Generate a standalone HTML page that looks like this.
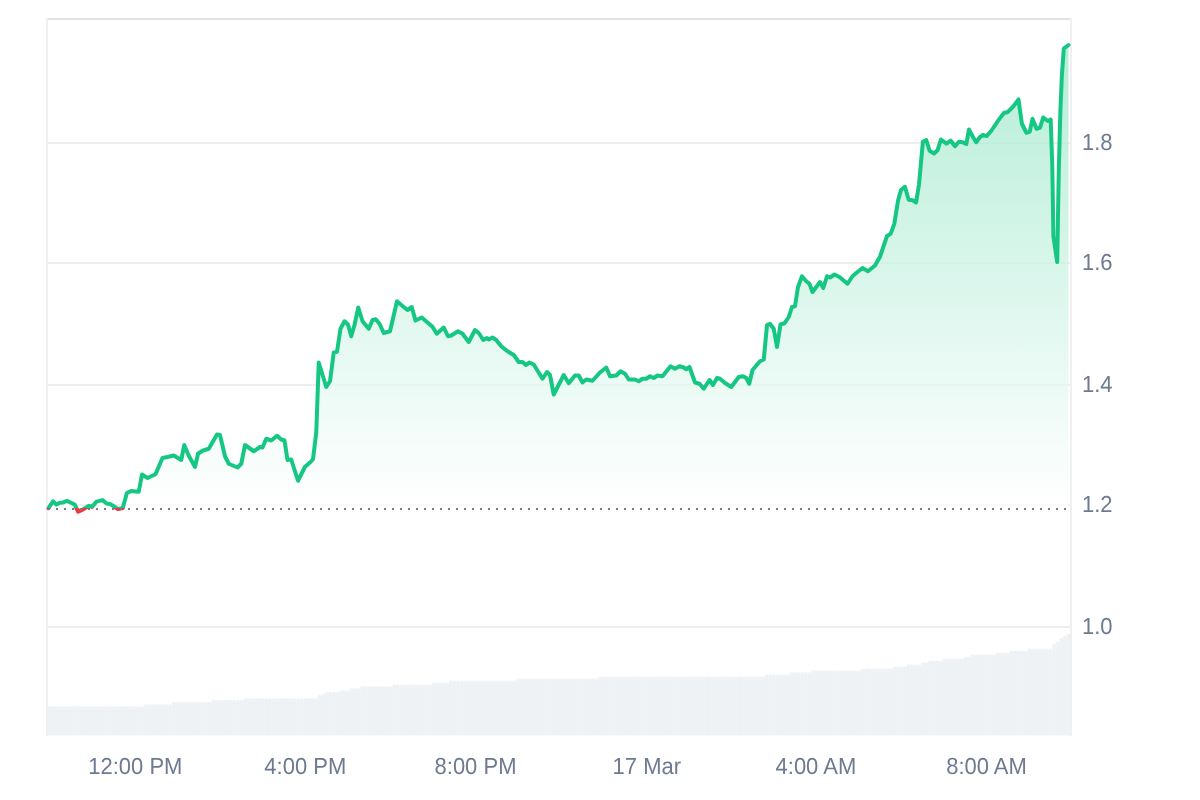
<!DOCTYPE html>
<html><head><meta charset="utf-8"><style>
html,body{margin:0;padding:0;background:#fff;width:1200px;height:800px;overflow:hidden}
svg{display:block;will-change:transform}
text{font-family:"Liberation Sans",sans-serif;font-size:22px;fill:#6e7a8f;text-rendering:geometricPrecision}
</style></head><body>
<svg width="1200" height="800" viewBox="0 0 1200 800">
<defs>
<linearGradient id="g" x1="0" y1="45" x2="0" y2="508.0" gradientUnits="userSpaceOnUse">
<stop offset="0" stop-color="#16c784" stop-opacity="0.315"/>
<stop offset="1" stop-color="#16c784" stop-opacity="0"/>
</linearGradient>
<clipPath id="volclip"><rect x="48" y="0" width="1022" height="735.5"/></clipPath>
<clipPath id="above"><rect x="0" y="0" width="1200" height="508.0"/></clipPath>
<clipPath id="below"><rect x="0" y="508.0" width="1200" height="292.0"/></clipPath>
<pattern id="dots" x="0" y="0" width="8" height="800" patternUnits="userSpaceOnUse"><rect x="0" y="508" width="2" height="2" fill="#787c84"/></pattern>
</defs>
<rect x="0" y="0" width="1200" height="800" fill="#fff"/>
<rect x="48" y="142" width="1022" height="2" fill="#eeeeee"/><rect x="48" y="262" width="1022" height="2" fill="#eeeeee"/><rect x="48" y="384" width="1022" height="2" fill="#eeeeee"/><rect x="48" y="504" width="1022" height="2" fill="#eeeeee"/><rect x="48" y="626" width="1022" height="2" fill="#eeeeee"/>
<path d="M48,735.5 L48.00,706.25 L51.55,706.25 L51.55,706.25 L55.10,706.25 L55.10,706.25 L58.65,706.25 L58.65,706.25 L62.19,706.25 L62.19,706.25 L65.74,706.25 L65.74,706.25 L69.29,706.25 L69.29,706.25 L72.84,706.25 L72.84,706.25 L76.39,706.25 L76.39,706.25 L79.94,706.25 L79.94,706.25 L83.49,706.25 L83.49,706.25 L87.03,706.25 L87.03,706.25 L90.58,706.25 L90.58,706.25 L94.13,706.25 L94.13,706.25 L97.68,706.25 L97.68,706.25 L101.23,706.25 L101.23,706.25 L104.78,706.25 L104.78,706.25 L108.33,706.25 L108.33,706.25 L111.88,706.25 L111.88,706.25 L115.42,706.25 L115.42,706.25 L118.97,706.25 L118.97,706.25 L122.52,706.25 L122.52,706.25 L126.07,706.25 L126.07,706.25 L129.62,706.25 L129.62,706.25 L133.17,706.25 L133.17,706.25 L136.72,706.25 L136.72,706.25 L140.26,706.25 L140.26,706.25 L143.81,706.25 L143.81,704.25 L147.36,704.25 L147.36,704.25 L150.91,704.25 L150.91,704.25 L154.46,704.25 L154.46,704.25 L158.01,704.25 L158.01,704.25 L161.56,704.25 L161.56,704.25 L165.10,704.25 L165.10,704.25 L168.65,704.25 L168.65,704.25 L172.20,704.25 L172.20,702.00 L175.75,702.00 L175.75,702.00 L179.30,702.00 L179.30,702.00 L182.85,702.00 L182.85,702.00 L186.40,702.00 L186.40,702.00 L189.94,702.00 L189.94,702.00 L193.49,702.00 L193.49,702.00 L197.04,702.00 L197.04,702.00 L200.59,702.00 L200.59,702.00 L204.14,702.00 L204.14,702.00 L207.69,702.00 L207.69,702.00 L211.24,702.00 L211.24,700.00 L214.78,700.00 L214.78,700.00 L218.33,700.00 L218.33,700.00 L221.88,700.00 L221.88,700.00 L225.43,700.00 L225.43,700.00 L228.98,700.00 L228.98,700.00 L232.53,700.00 L232.53,700.00 L236.08,700.00 L236.08,700.00 L239.62,700.00 L239.62,700.00 L243.17,700.00 L243.17,698.25 L246.72,698.25 L246.72,698.25 L250.27,698.25 L250.27,698.25 L253.82,698.25 L253.82,698.25 L257.37,698.25 L257.37,698.25 L260.92,698.25 L260.92,698.25 L264.47,698.25 L264.47,698.25 L268.01,698.25 L268.01,698.25 L271.56,698.25 L271.56,698.25 L275.11,698.25 L275.11,698.25 L278.66,698.25 L278.66,698.25 L282.21,698.25 L282.21,698.25 L285.76,698.25 L285.76,698.25 L289.31,698.25 L289.31,698.25 L292.85,698.25 L292.85,698.25 L296.40,698.25 L296.40,698.25 L299.95,698.25 L299.95,698.25 L303.50,698.25 L303.50,698.25 L307.05,698.25 L307.05,698.25 L310.60,698.25 L310.60,698.25 L314.15,698.25 L314.15,698.25 L317.69,698.25 L317.69,695.00 L321.24,695.00 L321.24,694.00 L324.79,694.00 L324.79,692.00 L328.34,692.00 L328.34,692.00 L331.89,692.00 L331.89,692.00 L335.44,692.00 L335.44,692.00 L338.99,692.00 L338.99,690.50 L342.53,690.50 L342.53,690.50 L346.08,690.50 L346.08,690.50 L349.63,690.50 L349.63,688.25 L353.18,688.25 L353.18,688.25 L356.73,688.25 L356.73,688.25 L360.28,688.25 L360.28,686.25 L363.83,686.25 L363.83,686.25 L367.38,686.25 L367.38,686.25 L370.92,686.25 L370.92,686.25 L374.47,686.25 L374.47,686.25 L378.02,686.25 L378.02,686.25 L381.57,686.25 L381.57,686.25 L385.12,686.25 L385.12,686.25 L388.67,686.25 L388.67,686.25 L392.22,686.25 L392.22,684.50 L395.76,684.50 L395.76,684.50 L399.31,684.50 L399.31,684.50 L402.86,684.50 L402.86,684.50 L406.41,684.50 L406.41,684.50 L409.96,684.50 L409.96,684.50 L413.51,684.50 L413.51,684.50 L417.06,684.50 L417.06,684.50 L420.60,684.50 L420.60,684.50 L424.15,684.50 L424.15,684.50 L427.70,684.50 L427.70,684.50 L431.25,684.50 L431.25,682.50 L434.80,682.50 L434.80,682.50 L438.35,682.50 L438.35,682.50 L441.90,682.50 L441.90,682.50 L445.44,682.50 L445.44,682.50 L448.99,682.50 L448.99,680.50 L452.54,680.50 L452.54,680.50 L456.09,680.50 L456.09,680.50 L459.64,680.50 L459.64,680.50 L463.19,680.50 L463.19,680.50 L466.74,680.50 L466.74,680.50 L470.28,680.50 L470.28,680.50 L473.83,680.50 L473.83,680.50 L477.38,680.50 L477.38,680.50 L480.93,680.50 L480.93,680.50 L484.48,680.50 L484.48,680.50 L488.03,680.50 L488.03,680.50 L491.58,680.50 L491.58,680.50 L495.12,680.50 L495.12,680.50 L498.67,680.50 L498.67,680.50 L502.22,680.50 L502.22,680.50 L505.77,680.50 L505.77,680.50 L509.32,680.50 L509.32,680.50 L512.87,680.50 L512.87,680.50 L516.42,680.50 L516.42,678.50 L519.97,678.50 L519.97,678.50 L523.51,678.50 L523.51,678.50 L527.06,678.50 L527.06,678.50 L530.61,678.50 L530.61,678.50 L534.16,678.50 L534.16,678.50 L537.71,678.50 L537.71,678.50 L541.26,678.50 L541.26,678.50 L544.81,678.50 L544.81,678.50 L548.35,678.50 L548.35,678.50 L551.90,678.50 L551.90,678.50 L555.45,678.50 L555.45,678.50 L559.00,678.50 L559.00,678.50 L562.55,678.50 L562.55,678.50 L566.10,678.50 L566.10,678.50 L569.65,678.50 L569.65,678.50 L573.19,678.50 L573.19,678.50 L576.74,678.50 L576.74,678.50 L580.29,678.50 L580.29,678.50 L583.84,678.50 L583.84,678.50 L587.39,678.50 L587.39,678.50 L590.94,678.50 L590.94,678.50 L594.49,678.50 L594.49,678.50 L598.03,678.50 L598.03,676.50 L601.58,676.50 L601.58,676.50 L605.13,676.50 L605.13,676.50 L608.68,676.50 L608.68,676.50 L612.23,676.50 L612.23,676.50 L615.78,676.50 L615.78,676.50 L619.33,676.50 L619.33,676.50 L622.88,676.50 L622.88,676.50 L626.42,676.50 L626.42,676.50 L629.97,676.50 L629.97,676.50 L633.52,676.50 L633.52,676.50 L637.07,676.50 L637.07,676.50 L640.62,676.50 L640.62,676.50 L644.17,676.50 L644.17,676.50 L647.72,676.50 L647.72,676.50 L651.26,676.50 L651.26,676.50 L654.81,676.50 L654.81,676.50 L658.36,676.50 L658.36,676.50 L661.91,676.50 L661.91,676.50 L665.46,676.50 L665.46,676.50 L669.01,676.50 L669.01,676.50 L672.56,676.50 L672.56,676.50 L676.10,676.50 L676.10,676.50 L679.65,676.50 L679.65,676.50 L683.20,676.50 L683.20,676.50 L686.75,676.50 L686.75,676.50 L690.30,676.50 L690.30,676.50 L693.85,676.50 L693.85,676.50 L697.40,676.50 L697.40,676.50 L700.94,676.50 L700.94,676.50 L704.49,676.50 L704.49,676.50 L708.04,676.50 L708.04,676.50 L711.59,676.50 L711.59,676.50 L715.14,676.50 L715.14,676.50 L718.69,676.50 L718.69,676.50 L722.24,676.50 L722.24,676.50 L725.78,676.50 L725.78,676.50 L729.33,676.50 L729.33,676.50 L732.88,676.50 L732.88,676.50 L736.43,676.50 L736.43,676.50 L739.98,676.50 L739.98,676.50 L743.53,676.50 L743.53,676.50 L747.08,676.50 L747.08,676.50 L750.62,676.50 L750.62,676.50 L754.17,676.50 L754.17,676.50 L757.72,676.50 L757.72,676.50 L761.27,676.50 L761.27,676.50 L764.82,676.50 L764.82,674.40 L768.37,674.40 L768.37,674.40 L771.92,674.40 L771.92,674.40 L775.47,674.40 L775.47,674.40 L779.01,674.40 L779.01,674.40 L782.56,674.40 L782.56,674.40 L786.11,674.40 L786.11,674.40 L789.66,674.40 L789.66,672.30 L793.21,672.30 L793.21,672.30 L796.76,672.30 L796.76,672.30 L800.31,672.30 L800.31,672.30 L803.85,672.30 L803.85,672.30 L807.40,672.30 L807.40,672.30 L810.95,672.30 L810.95,670.60 L814.50,670.60 L814.50,670.60 L818.05,670.60 L818.05,670.60 L821.60,670.60 L821.60,670.60 L825.15,670.60 L825.15,670.60 L828.69,670.60 L828.69,670.60 L832.24,670.60 L832.24,670.60 L835.79,670.60 L835.79,670.60 L839.34,670.60 L839.34,670.60 L842.89,670.60 L842.89,670.60 L846.44,670.60 L846.44,670.60 L849.99,670.60 L849.99,670.60 L853.53,670.60 L853.53,670.60 L857.08,670.60 L857.08,670.60 L860.63,670.60 L860.63,669.00 L864.18,669.00 L864.18,668.40 L867.73,668.40 L867.73,668.40 L871.28,668.40 L871.28,668.40 L874.83,668.40 L874.83,668.40 L878.38,668.40 L878.38,668.40 L881.92,668.40 L881.92,668.40 L885.47,668.40 L885.47,668.40 L889.02,668.40 L889.02,668.40 L892.57,668.40 L892.57,666.60 L896.12,666.60 L896.12,666.60 L899.67,666.60 L899.67,666.60 L903.22,666.60 L903.22,666.60 L906.76,666.60 L906.76,664.40 L910.31,664.40 L910.31,664.40 L913.86,664.40 L913.86,664.40 L917.41,664.40 L917.41,664.40 L920.96,664.40 L920.96,662.50 L924.51,662.50 L924.51,662.50 L928.06,662.50 L928.06,660.70 L931.60,660.70 L931.60,660.70 L935.15,660.70 L935.15,660.70 L938.70,660.70 L938.70,660.70 L942.25,660.70 L942.25,658.50 L945.80,658.50 L945.80,658.50 L949.35,658.50 L949.35,658.50 L952.90,658.50 L952.90,658.50 L956.44,658.50 L956.44,658.50 L959.99,658.50 L959.99,658.50 L963.54,658.50 L963.54,656.70 L967.09,656.70 L967.09,656.70 L970.64,656.70 L970.64,654.40 L974.19,654.40 L974.19,654.40 L977.74,654.40 L977.74,654.40 L981.28,654.40 L981.28,654.40 L984.83,654.40 L984.83,654.40 L988.38,654.40 L988.38,654.40 L991.93,654.40 L991.93,654.40 L995.48,654.40 L995.48,652.80 L999.03,652.80 L999.03,652.80 L1002.58,652.80 L1002.58,652.80 L1006.12,652.80 L1006.12,652.80 L1009.67,652.80 L1009.67,650.80 L1013.22,650.80 L1013.22,650.80 L1016.77,650.80 L1016.77,650.80 L1020.32,650.80 L1020.32,650.80 L1023.87,650.80 L1023.87,650.80 L1027.42,650.80 L1027.42,648.50 L1030.97,648.50 L1030.97,648.50 L1034.51,648.50 L1034.51,648.50 L1038.06,648.50 L1038.06,648.50 L1041.61,648.50 L1041.61,648.50 L1045.16,648.50 L1045.16,648.50 L1048.71,648.50 L1048.71,648.50 L1052.26,648.50 L1052.26,644.10 L1055.81,644.10 L1055.81,642.10 L1059.35,642.10 L1059.35,638.10 L1062.90,638.10 L1062.90,636.10 L1066.45,636.10 L1066.45,634.00 L1070.00,634.00 L1070,735.5 Z" fill="#eff2f5"/><g fill="#fff" fill-opacity="0.55"><rect x="50.95" y="705.75" width="1.2" height="1.8"/><rect x="51.25" y="706.25" width="0.6" height="29.25" fill-opacity="0.18"/><rect x="54.50" y="705.75" width="1.2" height="1.8"/><rect x="54.80" y="706.25" width="0.6" height="29.25" fill-opacity="0.18"/><rect x="58.05" y="705.75" width="1.2" height="1.8"/><rect x="58.35" y="706.25" width="0.6" height="29.25" fill-opacity="0.18"/><rect x="61.59" y="705.75" width="1.2" height="1.8"/><rect x="61.89" y="706.25" width="0.6" height="29.25" fill-opacity="0.18"/><rect x="65.14" y="705.75" width="1.2" height="1.8"/><rect x="65.44" y="706.25" width="0.6" height="29.25" fill-opacity="0.18"/><rect x="68.69" y="705.75" width="1.2" height="1.8"/><rect x="68.99" y="706.25" width="0.6" height="29.25" fill-opacity="0.18"/><rect x="72.24" y="705.75" width="1.2" height="1.8"/><rect x="72.54" y="706.25" width="0.6" height="29.25" fill-opacity="0.18"/><rect x="75.79" y="705.75" width="1.2" height="1.8"/><rect x="76.09" y="706.25" width="0.6" height="29.25" fill-opacity="0.18"/><rect x="79.34" y="705.75" width="1.2" height="1.8"/><rect x="79.64" y="706.25" width="0.6" height="29.25" fill-opacity="0.18"/><rect x="82.89" y="705.75" width="1.2" height="1.8"/><rect x="83.19" y="706.25" width="0.6" height="29.25" fill-opacity="0.18"/><rect x="86.43" y="705.75" width="1.2" height="1.8"/><rect x="86.73" y="706.25" width="0.6" height="29.25" fill-opacity="0.18"/><rect x="89.98" y="705.75" width="1.2" height="1.8"/><rect x="90.28" y="706.25" width="0.6" height="29.25" fill-opacity="0.18"/><rect x="93.53" y="705.75" width="1.2" height="1.8"/><rect x="93.83" y="706.25" width="0.6" height="29.25" fill-opacity="0.18"/><rect x="97.08" y="705.75" width="1.2" height="1.8"/><rect x="97.38" y="706.25" width="0.6" height="29.25" fill-opacity="0.18"/><rect x="100.63" y="705.75" width="1.2" height="1.8"/><rect x="100.93" y="706.25" width="0.6" height="29.25" fill-opacity="0.18"/><rect x="104.18" y="705.75" width="1.2" height="1.8"/><rect x="104.48" y="706.25" width="0.6" height="29.25" fill-opacity="0.18"/><rect x="107.73" y="705.75" width="1.2" height="1.8"/><rect x="108.03" y="706.25" width="0.6" height="29.25" fill-opacity="0.18"/><rect x="111.28" y="705.75" width="1.2" height="1.8"/><rect x="111.58" y="706.25" width="0.6" height="29.25" fill-opacity="0.18"/><rect x="114.82" y="705.75" width="1.2" height="1.8"/><rect x="115.12" y="706.25" width="0.6" height="29.25" fill-opacity="0.18"/><rect x="118.37" y="705.75" width="1.2" height="1.8"/><rect x="118.67" y="706.25" width="0.6" height="29.25" fill-opacity="0.18"/><rect x="121.92" y="705.75" width="1.2" height="1.8"/><rect x="122.22" y="706.25" width="0.6" height="29.25" fill-opacity="0.18"/><rect x="125.47" y="705.75" width="1.2" height="1.8"/><rect x="125.77" y="706.25" width="0.6" height="29.25" fill-opacity="0.18"/><rect x="129.02" y="705.75" width="1.2" height="1.8"/><rect x="129.32" y="706.25" width="0.6" height="29.25" fill-opacity="0.18"/><rect x="132.57" y="705.75" width="1.2" height="1.8"/><rect x="132.87" y="706.25" width="0.6" height="29.25" fill-opacity="0.18"/><rect x="136.12" y="705.75" width="1.2" height="1.8"/><rect x="136.42" y="706.25" width="0.6" height="29.25" fill-opacity="0.18"/><rect x="139.66" y="705.75" width="1.2" height="1.8"/><rect x="139.96" y="706.25" width="0.6" height="29.25" fill-opacity="0.18"/><rect x="143.21" y="703.75" width="1.2" height="1.8"/><rect x="143.21" y="705.75" width="1.2" height="1.8"/><rect x="143.51" y="704.25" width="0.6" height="31.25" fill-opacity="0.18"/><rect x="146.76" y="703.75" width="1.2" height="1.8"/><rect x="147.06" y="704.25" width="0.6" height="31.25" fill-opacity="0.18"/><rect x="150.31" y="703.75" width="1.2" height="1.8"/><rect x="150.61" y="704.25" width="0.6" height="31.25" fill-opacity="0.18"/><rect x="153.86" y="703.75" width="1.2" height="1.8"/><rect x="154.16" y="704.25" width="0.6" height="31.25" fill-opacity="0.18"/><rect x="157.41" y="703.75" width="1.2" height="1.8"/><rect x="157.71" y="704.25" width="0.6" height="31.25" fill-opacity="0.18"/><rect x="160.96" y="703.75" width="1.2" height="1.8"/><rect x="161.26" y="704.25" width="0.6" height="31.25" fill-opacity="0.18"/><rect x="164.50" y="703.75" width="1.2" height="1.8"/><rect x="164.80" y="704.25" width="0.6" height="31.25" fill-opacity="0.18"/><rect x="168.05" y="703.75" width="1.2" height="1.8"/><rect x="168.35" y="704.25" width="0.6" height="31.25" fill-opacity="0.18"/><rect x="171.60" y="703.75" width="1.2" height="1.8"/><rect x="171.60" y="701.50" width="1.2" height="1.8"/><rect x="171.90" y="702.00" width="0.6" height="33.50" fill-opacity="0.18"/><rect x="175.15" y="701.50" width="1.2" height="1.8"/><rect x="175.45" y="702.00" width="0.6" height="33.50" fill-opacity="0.18"/><rect x="178.70" y="701.50" width="1.2" height="1.8"/><rect x="179.00" y="702.00" width="0.6" height="33.50" fill-opacity="0.18"/><rect x="182.25" y="701.50" width="1.2" height="1.8"/><rect x="182.55" y="702.00" width="0.6" height="33.50" fill-opacity="0.18"/><rect x="185.80" y="701.50" width="1.2" height="1.8"/><rect x="186.10" y="702.00" width="0.6" height="33.50" fill-opacity="0.18"/><rect x="189.34" y="701.50" width="1.2" height="1.8"/><rect x="189.64" y="702.00" width="0.6" height="33.50" fill-opacity="0.18"/><rect x="192.89" y="701.50" width="1.2" height="1.8"/><rect x="193.19" y="702.00" width="0.6" height="33.50" fill-opacity="0.18"/><rect x="196.44" y="701.50" width="1.2" height="1.8"/><rect x="196.74" y="702.00" width="0.6" height="33.50" fill-opacity="0.18"/><rect x="199.99" y="701.50" width="1.2" height="1.8"/><rect x="200.29" y="702.00" width="0.6" height="33.50" fill-opacity="0.18"/><rect x="203.54" y="701.50" width="1.2" height="1.8"/><rect x="203.84" y="702.00" width="0.6" height="33.50" fill-opacity="0.18"/><rect x="207.09" y="701.50" width="1.2" height="1.8"/><rect x="207.39" y="702.00" width="0.6" height="33.50" fill-opacity="0.18"/><rect x="210.64" y="699.50" width="1.2" height="1.8"/><rect x="210.64" y="701.50" width="1.2" height="1.8"/><rect x="210.94" y="700.00" width="0.6" height="35.50" fill-opacity="0.18"/><rect x="214.18" y="699.50" width="1.2" height="1.8"/><rect x="214.48" y="700.00" width="0.6" height="35.50" fill-opacity="0.18"/><rect x="217.73" y="699.50" width="1.2" height="1.8"/><rect x="218.03" y="700.00" width="0.6" height="35.50" fill-opacity="0.18"/><rect x="221.28" y="699.50" width="1.2" height="1.8"/><rect x="221.58" y="700.00" width="0.6" height="35.50" fill-opacity="0.18"/><rect x="224.83" y="699.50" width="1.2" height="1.8"/><rect x="225.13" y="700.00" width="0.6" height="35.50" fill-opacity="0.18"/><rect x="228.38" y="699.50" width="1.2" height="1.8"/><rect x="228.68" y="700.00" width="0.6" height="35.50" fill-opacity="0.18"/><rect x="231.93" y="699.50" width="1.2" height="1.8"/><rect x="232.23" y="700.00" width="0.6" height="35.50" fill-opacity="0.18"/><rect x="235.48" y="699.50" width="1.2" height="1.8"/><rect x="235.78" y="700.00" width="0.6" height="35.50" fill-opacity="0.18"/><rect x="239.03" y="699.50" width="1.2" height="1.8"/><rect x="239.32" y="700.00" width="0.6" height="35.50" fill-opacity="0.18"/><rect x="242.57" y="697.75" width="1.2" height="1.8"/><rect x="242.57" y="699.50" width="1.2" height="1.8"/><rect x="242.87" y="698.25" width="0.6" height="37.25" fill-opacity="0.18"/><rect x="246.12" y="697.75" width="1.2" height="1.8"/><rect x="246.42" y="698.25" width="0.6" height="37.25" fill-opacity="0.18"/><rect x="249.67" y="697.75" width="1.2" height="1.8"/><rect x="249.97" y="698.25" width="0.6" height="37.25" fill-opacity="0.18"/><rect x="253.22" y="697.75" width="1.2" height="1.8"/><rect x="253.52" y="698.25" width="0.6" height="37.25" fill-opacity="0.18"/><rect x="256.77" y="697.75" width="1.2" height="1.8"/><rect x="257.07" y="698.25" width="0.6" height="37.25" fill-opacity="0.18"/><rect x="260.32" y="697.75" width="1.2" height="1.8"/><rect x="260.62" y="698.25" width="0.6" height="37.25" fill-opacity="0.18"/><rect x="263.87" y="697.75" width="1.2" height="1.8"/><rect x="264.17" y="698.25" width="0.6" height="37.25" fill-opacity="0.18"/><rect x="267.41" y="697.75" width="1.2" height="1.8"/><rect x="267.71" y="698.25" width="0.6" height="37.25" fill-opacity="0.18"/><rect x="270.96" y="697.75" width="1.2" height="1.8"/><rect x="271.26" y="698.25" width="0.6" height="37.25" fill-opacity="0.18"/><rect x="274.51" y="697.75" width="1.2" height="1.8"/><rect x="274.81" y="698.25" width="0.6" height="37.25" fill-opacity="0.18"/><rect x="278.06" y="697.75" width="1.2" height="1.8"/><rect x="278.36" y="698.25" width="0.6" height="37.25" fill-opacity="0.18"/><rect x="281.61" y="697.75" width="1.2" height="1.8"/><rect x="281.91" y="698.25" width="0.6" height="37.25" fill-opacity="0.18"/><rect x="285.16" y="697.75" width="1.2" height="1.8"/><rect x="285.46" y="698.25" width="0.6" height="37.25" fill-opacity="0.18"/><rect x="288.71" y="697.75" width="1.2" height="1.8"/><rect x="289.01" y="698.25" width="0.6" height="37.25" fill-opacity="0.18"/><rect x="292.25" y="697.75" width="1.2" height="1.8"/><rect x="292.55" y="698.25" width="0.6" height="37.25" fill-opacity="0.18"/><rect x="295.80" y="697.75" width="1.2" height="1.8"/><rect x="296.10" y="698.25" width="0.6" height="37.25" fill-opacity="0.18"/><rect x="299.35" y="697.75" width="1.2" height="1.8"/><rect x="299.65" y="698.25" width="0.6" height="37.25" fill-opacity="0.18"/><rect x="302.90" y="697.75" width="1.2" height="1.8"/><rect x="303.20" y="698.25" width="0.6" height="37.25" fill-opacity="0.18"/><rect x="306.45" y="697.75" width="1.2" height="1.8"/><rect x="306.75" y="698.25" width="0.6" height="37.25" fill-opacity="0.18"/><rect x="310.00" y="697.75" width="1.2" height="1.8"/><rect x="310.30" y="698.25" width="0.6" height="37.25" fill-opacity="0.18"/><rect x="313.55" y="697.75" width="1.2" height="1.8"/><rect x="313.85" y="698.25" width="0.6" height="37.25" fill-opacity="0.18"/><rect x="317.09" y="697.75" width="1.2" height="1.8"/><rect x="317.09" y="694.50" width="1.2" height="1.8"/><rect x="317.39" y="695.00" width="0.6" height="40.50" fill-opacity="0.18"/><rect x="320.64" y="693.50" width="1.2" height="1.8"/><rect x="320.64" y="694.50" width="1.2" height="1.8"/><rect x="320.94" y="694.00" width="0.6" height="41.50" fill-opacity="0.18"/><rect x="324.19" y="691.50" width="1.2" height="1.8"/><rect x="324.19" y="693.50" width="1.2" height="1.8"/><rect x="324.49" y="692.00" width="0.6" height="43.50" fill-opacity="0.18"/><rect x="327.74" y="691.50" width="1.2" height="1.8"/><rect x="328.04" y="692.00" width="0.6" height="43.50" fill-opacity="0.18"/><rect x="331.29" y="691.50" width="1.2" height="1.8"/><rect x="331.59" y="692.00" width="0.6" height="43.50" fill-opacity="0.18"/><rect x="334.84" y="691.50" width="1.2" height="1.8"/><rect x="335.14" y="692.00" width="0.6" height="43.50" fill-opacity="0.18"/><rect x="338.39" y="690.00" width="1.2" height="1.8"/><rect x="338.39" y="691.50" width="1.2" height="1.8"/><rect x="338.69" y="690.50" width="0.6" height="45.00" fill-opacity="0.18"/><rect x="341.93" y="690.00" width="1.2" height="1.8"/><rect x="342.23" y="690.50" width="0.6" height="45.00" fill-opacity="0.18"/><rect x="345.48" y="690.00" width="1.2" height="1.8"/><rect x="345.78" y="690.50" width="0.6" height="45.00" fill-opacity="0.18"/><rect x="349.03" y="687.75" width="1.2" height="1.8"/><rect x="349.03" y="690.00" width="1.2" height="1.8"/><rect x="349.33" y="688.25" width="0.6" height="47.25" fill-opacity="0.18"/><rect x="352.58" y="687.75" width="1.2" height="1.8"/><rect x="352.88" y="688.25" width="0.6" height="47.25" fill-opacity="0.18"/><rect x="356.13" y="687.75" width="1.2" height="1.8"/><rect x="356.43" y="688.25" width="0.6" height="47.25" fill-opacity="0.18"/><rect x="359.68" y="687.75" width="1.2" height="1.8"/><rect x="359.68" y="685.75" width="1.2" height="1.8"/><rect x="359.98" y="686.25" width="0.6" height="49.25" fill-opacity="0.18"/><rect x="363.23" y="685.75" width="1.2" height="1.8"/><rect x="363.53" y="686.25" width="0.6" height="49.25" fill-opacity="0.18"/><rect x="366.77" y="685.75" width="1.2" height="1.8"/><rect x="367.07" y="686.25" width="0.6" height="49.25" fill-opacity="0.18"/><rect x="370.32" y="685.75" width="1.2" height="1.8"/><rect x="370.62" y="686.25" width="0.6" height="49.25" fill-opacity="0.18"/><rect x="373.87" y="685.75" width="1.2" height="1.8"/><rect x="374.17" y="686.25" width="0.6" height="49.25" fill-opacity="0.18"/><rect x="377.42" y="685.75" width="1.2" height="1.8"/><rect x="377.72" y="686.25" width="0.6" height="49.25" fill-opacity="0.18"/><rect x="380.97" y="685.75" width="1.2" height="1.8"/><rect x="381.27" y="686.25" width="0.6" height="49.25" fill-opacity="0.18"/><rect x="384.52" y="685.75" width="1.2" height="1.8"/><rect x="384.82" y="686.25" width="0.6" height="49.25" fill-opacity="0.18"/><rect x="388.07" y="685.75" width="1.2" height="1.8"/><rect x="388.37" y="686.25" width="0.6" height="49.25" fill-opacity="0.18"/><rect x="391.62" y="684.00" width="1.2" height="1.8"/><rect x="391.62" y="685.75" width="1.2" height="1.8"/><rect x="391.92" y="684.50" width="0.6" height="51.00" fill-opacity="0.18"/><rect x="395.16" y="684.00" width="1.2" height="1.8"/><rect x="395.46" y="684.50" width="0.6" height="51.00" fill-opacity="0.18"/><rect x="398.71" y="684.00" width="1.2" height="1.8"/><rect x="399.01" y="684.50" width="0.6" height="51.00" fill-opacity="0.18"/><rect x="402.26" y="684.00" width="1.2" height="1.8"/><rect x="402.56" y="684.50" width="0.6" height="51.00" fill-opacity="0.18"/><rect x="405.81" y="684.00" width="1.2" height="1.8"/><rect x="406.11" y="684.50" width="0.6" height="51.00" fill-opacity="0.18"/><rect x="409.36" y="684.00" width="1.2" height="1.8"/><rect x="409.66" y="684.50" width="0.6" height="51.00" fill-opacity="0.18"/><rect x="412.91" y="684.00" width="1.2" height="1.8"/><rect x="413.21" y="684.50" width="0.6" height="51.00" fill-opacity="0.18"/><rect x="416.46" y="684.00" width="1.2" height="1.8"/><rect x="416.76" y="684.50" width="0.6" height="51.00" fill-opacity="0.18"/><rect x="420.00" y="684.00" width="1.2" height="1.8"/><rect x="420.30" y="684.50" width="0.6" height="51.00" fill-opacity="0.18"/><rect x="423.55" y="684.00" width="1.2" height="1.8"/><rect x="423.85" y="684.50" width="0.6" height="51.00" fill-opacity="0.18"/><rect x="427.10" y="684.00" width="1.2" height="1.8"/><rect x="427.40" y="684.50" width="0.6" height="51.00" fill-opacity="0.18"/><rect x="430.65" y="682.00" width="1.2" height="1.8"/><rect x="430.65" y="684.00" width="1.2" height="1.8"/><rect x="430.95" y="682.50" width="0.6" height="53.00" fill-opacity="0.18"/><rect x="434.20" y="682.00" width="1.2" height="1.8"/><rect x="434.50" y="682.50" width="0.6" height="53.00" fill-opacity="0.18"/><rect x="437.75" y="682.00" width="1.2" height="1.8"/><rect x="438.05" y="682.50" width="0.6" height="53.00" fill-opacity="0.18"/><rect x="441.30" y="682.00" width="1.2" height="1.8"/><rect x="441.60" y="682.50" width="0.6" height="53.00" fill-opacity="0.18"/><rect x="444.84" y="682.00" width="1.2" height="1.8"/><rect x="445.14" y="682.50" width="0.6" height="53.00" fill-opacity="0.18"/><rect x="448.39" y="680.00" width="1.2" height="1.8"/><rect x="448.39" y="682.00" width="1.2" height="1.8"/><rect x="448.69" y="680.50" width="0.6" height="55.00" fill-opacity="0.18"/><rect x="451.94" y="680.00" width="1.2" height="1.8"/><rect x="452.24" y="680.50" width="0.6" height="55.00" fill-opacity="0.18"/><rect x="455.49" y="680.00" width="1.2" height="1.8"/><rect x="455.79" y="680.50" width="0.6" height="55.00" fill-opacity="0.18"/><rect x="459.04" y="680.00" width="1.2" height="1.8"/><rect x="459.34" y="680.50" width="0.6" height="55.00" fill-opacity="0.18"/><rect x="462.59" y="680.00" width="1.2" height="1.8"/><rect x="462.89" y="680.50" width="0.6" height="55.00" fill-opacity="0.18"/><rect x="466.14" y="680.00" width="1.2" height="1.8"/><rect x="466.44" y="680.50" width="0.6" height="55.00" fill-opacity="0.18"/><rect x="469.68" y="680.00" width="1.2" height="1.8"/><rect x="469.98" y="680.50" width="0.6" height="55.00" fill-opacity="0.18"/><rect x="473.23" y="680.00" width="1.2" height="1.8"/><rect x="473.53" y="680.50" width="0.6" height="55.00" fill-opacity="0.18"/><rect x="476.78" y="680.00" width="1.2" height="1.8"/><rect x="477.08" y="680.50" width="0.6" height="55.00" fill-opacity="0.18"/><rect x="480.33" y="680.00" width="1.2" height="1.8"/><rect x="480.63" y="680.50" width="0.6" height="55.00" fill-opacity="0.18"/><rect x="483.88" y="680.00" width="1.2" height="1.8"/><rect x="484.18" y="680.50" width="0.6" height="55.00" fill-opacity="0.18"/><rect x="487.43" y="680.00" width="1.2" height="1.8"/><rect x="487.73" y="680.50" width="0.6" height="55.00" fill-opacity="0.18"/><rect x="490.98" y="680.00" width="1.2" height="1.8"/><rect x="491.28" y="680.50" width="0.6" height="55.00" fill-opacity="0.18"/><rect x="494.52" y="680.00" width="1.2" height="1.8"/><rect x="494.82" y="680.50" width="0.6" height="55.00" fill-opacity="0.18"/><rect x="498.07" y="680.00" width="1.2" height="1.8"/><rect x="498.37" y="680.50" width="0.6" height="55.00" fill-opacity="0.18"/><rect x="501.62" y="680.00" width="1.2" height="1.8"/><rect x="501.92" y="680.50" width="0.6" height="55.00" fill-opacity="0.18"/><rect x="505.17" y="680.00" width="1.2" height="1.8"/><rect x="505.47" y="680.50" width="0.6" height="55.00" fill-opacity="0.18"/><rect x="508.72" y="680.00" width="1.2" height="1.8"/><rect x="509.02" y="680.50" width="0.6" height="55.00" fill-opacity="0.18"/><rect x="512.27" y="680.00" width="1.2" height="1.8"/><rect x="512.57" y="680.50" width="0.6" height="55.00" fill-opacity="0.18"/><rect x="515.82" y="680.00" width="1.2" height="1.8"/><rect x="515.82" y="678.00" width="1.2" height="1.8"/><rect x="516.12" y="678.50" width="0.6" height="57.00" fill-opacity="0.18"/><rect x="519.37" y="678.00" width="1.2" height="1.8"/><rect x="519.67" y="678.50" width="0.6" height="57.00" fill-opacity="0.18"/><rect x="522.91" y="678.00" width="1.2" height="1.8"/><rect x="523.21" y="678.50" width="0.6" height="57.00" fill-opacity="0.18"/><rect x="526.46" y="678.00" width="1.2" height="1.8"/><rect x="526.76" y="678.50" width="0.6" height="57.00" fill-opacity="0.18"/><rect x="530.01" y="678.00" width="1.2" height="1.8"/><rect x="530.31" y="678.50" width="0.6" height="57.00" fill-opacity="0.18"/><rect x="533.56" y="678.00" width="1.2" height="1.8"/><rect x="533.86" y="678.50" width="0.6" height="57.00" fill-opacity="0.18"/><rect x="537.11" y="678.00" width="1.2" height="1.8"/><rect x="537.41" y="678.50" width="0.6" height="57.00" fill-opacity="0.18"/><rect x="540.66" y="678.00" width="1.2" height="1.8"/><rect x="540.96" y="678.50" width="0.6" height="57.00" fill-opacity="0.18"/><rect x="544.21" y="678.00" width="1.2" height="1.8"/><rect x="544.51" y="678.50" width="0.6" height="57.00" fill-opacity="0.18"/><rect x="547.75" y="678.00" width="1.2" height="1.8"/><rect x="548.05" y="678.50" width="0.6" height="57.00" fill-opacity="0.18"/><rect x="551.30" y="678.00" width="1.2" height="1.8"/><rect x="551.60" y="678.50" width="0.6" height="57.00" fill-opacity="0.18"/><rect x="554.85" y="678.00" width="1.2" height="1.8"/><rect x="555.15" y="678.50" width="0.6" height="57.00" fill-opacity="0.18"/><rect x="558.40" y="678.00" width="1.2" height="1.8"/><rect x="558.70" y="678.50" width="0.6" height="57.00" fill-opacity="0.18"/><rect x="561.95" y="678.00" width="1.2" height="1.8"/><rect x="562.25" y="678.50" width="0.6" height="57.00" fill-opacity="0.18"/><rect x="565.50" y="678.00" width="1.2" height="1.8"/><rect x="565.80" y="678.50" width="0.6" height="57.00" fill-opacity="0.18"/><rect x="569.05" y="678.00" width="1.2" height="1.8"/><rect x="569.35" y="678.50" width="0.6" height="57.00" fill-opacity="0.18"/><rect x="572.59" y="678.00" width="1.2" height="1.8"/><rect x="572.89" y="678.50" width="0.6" height="57.00" fill-opacity="0.18"/><rect x="576.14" y="678.00" width="1.2" height="1.8"/><rect x="576.44" y="678.50" width="0.6" height="57.00" fill-opacity="0.18"/><rect x="579.69" y="678.00" width="1.2" height="1.8"/><rect x="579.99" y="678.50" width="0.6" height="57.00" fill-opacity="0.18"/><rect x="583.24" y="678.00" width="1.2" height="1.8"/><rect x="583.54" y="678.50" width="0.6" height="57.00" fill-opacity="0.18"/><rect x="586.79" y="678.00" width="1.2" height="1.8"/><rect x="587.09" y="678.50" width="0.6" height="57.00" fill-opacity="0.18"/><rect x="590.34" y="678.00" width="1.2" height="1.8"/><rect x="590.64" y="678.50" width="0.6" height="57.00" fill-opacity="0.18"/><rect x="593.89" y="678.00" width="1.2" height="1.8"/><rect x="594.19" y="678.50" width="0.6" height="57.00" fill-opacity="0.18"/><rect x="597.43" y="676.00" width="1.2" height="1.8"/><rect x="597.43" y="678.00" width="1.2" height="1.8"/><rect x="597.73" y="676.50" width="0.6" height="59.00" fill-opacity="0.18"/><rect x="600.98" y="676.00" width="1.2" height="1.8"/><rect x="601.28" y="676.50" width="0.6" height="59.00" fill-opacity="0.18"/><rect x="604.53" y="676.00" width="1.2" height="1.8"/><rect x="604.83" y="676.50" width="0.6" height="59.00" fill-opacity="0.18"/><rect x="608.08" y="676.00" width="1.2" height="1.8"/><rect x="608.38" y="676.50" width="0.6" height="59.00" fill-opacity="0.18"/><rect x="611.63" y="676.00" width="1.2" height="1.8"/><rect x="611.93" y="676.50" width="0.6" height="59.00" fill-opacity="0.18"/><rect x="615.18" y="676.00" width="1.2" height="1.8"/><rect x="615.48" y="676.50" width="0.6" height="59.00" fill-opacity="0.18"/><rect x="618.73" y="676.00" width="1.2" height="1.8"/><rect x="619.03" y="676.50" width="0.6" height="59.00" fill-opacity="0.18"/><rect x="622.27" y="676.00" width="1.2" height="1.8"/><rect x="622.58" y="676.50" width="0.6" height="59.00" fill-opacity="0.18"/><rect x="625.82" y="676.00" width="1.2" height="1.8"/><rect x="626.12" y="676.50" width="0.6" height="59.00" fill-opacity="0.18"/><rect x="629.37" y="676.00" width="1.2" height="1.8"/><rect x="629.67" y="676.50" width="0.6" height="59.00" fill-opacity="0.18"/><rect x="632.92" y="676.00" width="1.2" height="1.8"/><rect x="633.22" y="676.50" width="0.6" height="59.00" fill-opacity="0.18"/><rect x="636.47" y="676.00" width="1.2" height="1.8"/><rect x="636.77" y="676.50" width="0.6" height="59.00" fill-opacity="0.18"/><rect x="640.02" y="676.00" width="1.2" height="1.8"/><rect x="640.32" y="676.50" width="0.6" height="59.00" fill-opacity="0.18"/><rect x="643.57" y="676.00" width="1.2" height="1.8"/><rect x="643.87" y="676.50" width="0.6" height="59.00" fill-opacity="0.18"/><rect x="647.12" y="676.00" width="1.2" height="1.8"/><rect x="647.42" y="676.50" width="0.6" height="59.00" fill-opacity="0.18"/><rect x="650.66" y="676.00" width="1.2" height="1.8"/><rect x="650.96" y="676.50" width="0.6" height="59.00" fill-opacity="0.18"/><rect x="654.21" y="676.00" width="1.2" height="1.8"/><rect x="654.51" y="676.50" width="0.6" height="59.00" fill-opacity="0.18"/><rect x="657.76" y="676.00" width="1.2" height="1.8"/><rect x="658.06" y="676.50" width="0.6" height="59.00" fill-opacity="0.18"/><rect x="661.31" y="676.00" width="1.2" height="1.8"/><rect x="661.61" y="676.50" width="0.6" height="59.00" fill-opacity="0.18"/><rect x="664.86" y="676.00" width="1.2" height="1.8"/><rect x="665.16" y="676.50" width="0.6" height="59.00" fill-opacity="0.18"/><rect x="668.41" y="676.00" width="1.2" height="1.8"/><rect x="668.71" y="676.50" width="0.6" height="59.00" fill-opacity="0.18"/><rect x="671.96" y="676.00" width="1.2" height="1.8"/><rect x="672.26" y="676.50" width="0.6" height="59.00" fill-opacity="0.18"/><rect x="675.50" y="676.00" width="1.2" height="1.8"/><rect x="675.80" y="676.50" width="0.6" height="59.00" fill-opacity="0.18"/><rect x="679.05" y="676.00" width="1.2" height="1.8"/><rect x="679.35" y="676.50" width="0.6" height="59.00" fill-opacity="0.18"/><rect x="682.60" y="676.00" width="1.2" height="1.8"/><rect x="682.90" y="676.50" width="0.6" height="59.00" fill-opacity="0.18"/><rect x="686.15" y="676.00" width="1.2" height="1.8"/><rect x="686.45" y="676.50" width="0.6" height="59.00" fill-opacity="0.18"/><rect x="689.70" y="676.00" width="1.2" height="1.8"/><rect x="690.00" y="676.50" width="0.6" height="59.00" fill-opacity="0.18"/><rect x="693.25" y="676.00" width="1.2" height="1.8"/><rect x="693.55" y="676.50" width="0.6" height="59.00" fill-opacity="0.18"/><rect x="696.80" y="676.00" width="1.2" height="1.8"/><rect x="697.10" y="676.50" width="0.6" height="59.00" fill-opacity="0.18"/><rect x="700.34" y="676.00" width="1.2" height="1.8"/><rect x="700.64" y="676.50" width="0.6" height="59.00" fill-opacity="0.18"/><rect x="703.89" y="676.00" width="1.2" height="1.8"/><rect x="704.19" y="676.50" width="0.6" height="59.00" fill-opacity="0.18"/><rect x="707.44" y="676.00" width="1.2" height="1.8"/><rect x="707.74" y="676.50" width="0.6" height="59.00" fill-opacity="0.18"/><rect x="710.99" y="676.00" width="1.2" height="1.8"/><rect x="711.29" y="676.50" width="0.6" height="59.00" fill-opacity="0.18"/><rect x="714.54" y="676.00" width="1.2" height="1.8"/><rect x="714.84" y="676.50" width="0.6" height="59.00" fill-opacity="0.18"/><rect x="718.09" y="676.00" width="1.2" height="1.8"/><rect x="718.39" y="676.50" width="0.6" height="59.00" fill-opacity="0.18"/><rect x="721.64" y="676.00" width="1.2" height="1.8"/><rect x="721.94" y="676.50" width="0.6" height="59.00" fill-opacity="0.18"/><rect x="725.18" y="676.00" width="1.2" height="1.8"/><rect x="725.48" y="676.50" width="0.6" height="59.00" fill-opacity="0.18"/><rect x="728.73" y="676.00" width="1.2" height="1.8"/><rect x="729.03" y="676.50" width="0.6" height="59.00" fill-opacity="0.18"/><rect x="732.28" y="676.00" width="1.2" height="1.8"/><rect x="732.58" y="676.50" width="0.6" height="59.00" fill-opacity="0.18"/><rect x="735.83" y="676.00" width="1.2" height="1.8"/><rect x="736.13" y="676.50" width="0.6" height="59.00" fill-opacity="0.18"/><rect x="739.38" y="676.00" width="1.2" height="1.8"/><rect x="739.68" y="676.50" width="0.6" height="59.00" fill-opacity="0.18"/><rect x="742.93" y="676.00" width="1.2" height="1.8"/><rect x="743.23" y="676.50" width="0.6" height="59.00" fill-opacity="0.18"/><rect x="746.48" y="676.00" width="1.2" height="1.8"/><rect x="746.78" y="676.50" width="0.6" height="59.00" fill-opacity="0.18"/><rect x="750.02" y="676.00" width="1.2" height="1.8"/><rect x="750.33" y="676.50" width="0.6" height="59.00" fill-opacity="0.18"/><rect x="753.57" y="676.00" width="1.2" height="1.8"/><rect x="753.87" y="676.50" width="0.6" height="59.00" fill-opacity="0.18"/><rect x="757.12" y="676.00" width="1.2" height="1.8"/><rect x="757.42" y="676.50" width="0.6" height="59.00" fill-opacity="0.18"/><rect x="760.67" y="676.00" width="1.2" height="1.8"/><rect x="760.97" y="676.50" width="0.6" height="59.00" fill-opacity="0.18"/><rect x="764.22" y="673.90" width="1.2" height="1.8"/><rect x="764.22" y="676.00" width="1.2" height="1.8"/><rect x="764.52" y="674.40" width="0.6" height="61.10" fill-opacity="0.18"/><rect x="767.77" y="673.90" width="1.2" height="1.8"/><rect x="768.07" y="674.40" width="0.6" height="61.10" fill-opacity="0.18"/><rect x="771.32" y="673.90" width="1.2" height="1.8"/><rect x="771.62" y="674.40" width="0.6" height="61.10" fill-opacity="0.18"/><rect x="774.87" y="673.90" width="1.2" height="1.8"/><rect x="775.17" y="674.40" width="0.6" height="61.10" fill-opacity="0.18"/><rect x="778.41" y="673.90" width="1.2" height="1.8"/><rect x="778.71" y="674.40" width="0.6" height="61.10" fill-opacity="0.18"/><rect x="781.96" y="673.90" width="1.2" height="1.8"/><rect x="782.26" y="674.40" width="0.6" height="61.10" fill-opacity="0.18"/><rect x="785.51" y="673.90" width="1.2" height="1.8"/><rect x="785.81" y="674.40" width="0.6" height="61.10" fill-opacity="0.18"/><rect x="789.06" y="671.80" width="1.2" height="1.8"/><rect x="789.06" y="673.90" width="1.2" height="1.8"/><rect x="789.36" y="672.30" width="0.6" height="63.20" fill-opacity="0.18"/><rect x="792.61" y="671.80" width="1.2" height="1.8"/><rect x="792.91" y="672.30" width="0.6" height="63.20" fill-opacity="0.18"/><rect x="796.16" y="671.80" width="1.2" height="1.8"/><rect x="796.46" y="672.30" width="0.6" height="63.20" fill-opacity="0.18"/><rect x="799.71" y="671.80" width="1.2" height="1.8"/><rect x="800.01" y="672.30" width="0.6" height="63.20" fill-opacity="0.18"/><rect x="803.25" y="671.80" width="1.2" height="1.8"/><rect x="803.55" y="672.30" width="0.6" height="63.20" fill-opacity="0.18"/><rect x="806.80" y="671.80" width="1.2" height="1.8"/><rect x="807.10" y="672.30" width="0.6" height="63.20" fill-opacity="0.18"/><rect x="810.35" y="671.80" width="1.2" height="1.8"/><rect x="810.35" y="670.10" width="1.2" height="1.8"/><rect x="810.65" y="670.60" width="0.6" height="64.90" fill-opacity="0.18"/><rect x="813.90" y="670.10" width="1.2" height="1.8"/><rect x="814.20" y="670.60" width="0.6" height="64.90" fill-opacity="0.18"/><rect x="817.45" y="670.10" width="1.2" height="1.8"/><rect x="817.75" y="670.60" width="0.6" height="64.90" fill-opacity="0.18"/><rect x="821.00" y="670.10" width="1.2" height="1.8"/><rect x="821.30" y="670.60" width="0.6" height="64.90" fill-opacity="0.18"/><rect x="824.55" y="670.10" width="1.2" height="1.8"/><rect x="824.85" y="670.60" width="0.6" height="64.90" fill-opacity="0.18"/><rect x="828.09" y="670.10" width="1.2" height="1.8"/><rect x="828.39" y="670.60" width="0.6" height="64.90" fill-opacity="0.18"/><rect x="831.64" y="670.10" width="1.2" height="1.8"/><rect x="831.94" y="670.60" width="0.6" height="64.90" fill-opacity="0.18"/><rect x="835.19" y="670.10" width="1.2" height="1.8"/><rect x="835.49" y="670.60" width="0.6" height="64.90" fill-opacity="0.18"/><rect x="838.74" y="670.10" width="1.2" height="1.8"/><rect x="839.04" y="670.60" width="0.6" height="64.90" fill-opacity="0.18"/><rect x="842.29" y="670.10" width="1.2" height="1.8"/><rect x="842.59" y="670.60" width="0.6" height="64.90" fill-opacity="0.18"/><rect x="845.84" y="670.10" width="1.2" height="1.8"/><rect x="846.14" y="670.60" width="0.6" height="64.90" fill-opacity="0.18"/><rect x="849.39" y="670.10" width="1.2" height="1.8"/><rect x="849.69" y="670.60" width="0.6" height="64.90" fill-opacity="0.18"/><rect x="852.93" y="670.10" width="1.2" height="1.8"/><rect x="853.23" y="670.60" width="0.6" height="64.90" fill-opacity="0.18"/><rect x="856.48" y="670.10" width="1.2" height="1.8"/><rect x="856.78" y="670.60" width="0.6" height="64.90" fill-opacity="0.18"/><rect x="860.03" y="668.50" width="1.2" height="1.8"/><rect x="860.03" y="670.10" width="1.2" height="1.8"/><rect x="860.33" y="669.00" width="0.6" height="66.50" fill-opacity="0.18"/><rect x="863.58" y="667.90" width="1.2" height="1.8"/><rect x="863.58" y="668.50" width="1.2" height="1.8"/><rect x="863.88" y="668.40" width="0.6" height="67.10" fill-opacity="0.18"/><rect x="867.13" y="667.90" width="1.2" height="1.8"/><rect x="867.43" y="668.40" width="0.6" height="67.10" fill-opacity="0.18"/><rect x="870.68" y="667.90" width="1.2" height="1.8"/><rect x="870.98" y="668.40" width="0.6" height="67.10" fill-opacity="0.18"/><rect x="874.23" y="667.90" width="1.2" height="1.8"/><rect x="874.53" y="668.40" width="0.6" height="67.10" fill-opacity="0.18"/><rect x="877.77" y="667.90" width="1.2" height="1.8"/><rect x="878.08" y="668.40" width="0.6" height="67.10" fill-opacity="0.18"/><rect x="881.32" y="667.90" width="1.2" height="1.8"/><rect x="881.62" y="668.40" width="0.6" height="67.10" fill-opacity="0.18"/><rect x="884.87" y="667.90" width="1.2" height="1.8"/><rect x="885.17" y="668.40" width="0.6" height="67.10" fill-opacity="0.18"/><rect x="888.42" y="667.90" width="1.2" height="1.8"/><rect x="888.72" y="668.40" width="0.6" height="67.10" fill-opacity="0.18"/><rect x="891.97" y="666.10" width="1.2" height="1.8"/><rect x="891.97" y="667.90" width="1.2" height="1.8"/><rect x="892.27" y="666.60" width="0.6" height="68.90" fill-opacity="0.18"/><rect x="895.52" y="666.10" width="1.2" height="1.8"/><rect x="895.82" y="666.60" width="0.6" height="68.90" fill-opacity="0.18"/><rect x="899.07" y="666.10" width="1.2" height="1.8"/><rect x="899.37" y="666.60" width="0.6" height="68.90" fill-opacity="0.18"/><rect x="902.62" y="666.10" width="1.2" height="1.8"/><rect x="902.92" y="666.60" width="0.6" height="68.90" fill-opacity="0.18"/><rect x="906.16" y="663.90" width="1.2" height="1.8"/><rect x="906.16" y="666.10" width="1.2" height="1.8"/><rect x="906.46" y="664.40" width="0.6" height="71.10" fill-opacity="0.18"/><rect x="909.71" y="663.90" width="1.2" height="1.8"/><rect x="910.01" y="664.40" width="0.6" height="71.10" fill-opacity="0.18"/><rect x="913.26" y="663.90" width="1.2" height="1.8"/><rect x="913.56" y="664.40" width="0.6" height="71.10" fill-opacity="0.18"/><rect x="916.81" y="663.90" width="1.2" height="1.8"/><rect x="917.11" y="664.40" width="0.6" height="71.10" fill-opacity="0.18"/><rect x="920.36" y="663.90" width="1.2" height="1.8"/><rect x="920.36" y="662.00" width="1.2" height="1.8"/><rect x="920.66" y="662.50" width="0.6" height="73.00" fill-opacity="0.18"/><rect x="923.91" y="662.00" width="1.2" height="1.8"/><rect x="924.21" y="662.50" width="0.6" height="73.00" fill-opacity="0.18"/><rect x="927.46" y="660.20" width="1.2" height="1.8"/><rect x="927.46" y="662.00" width="1.2" height="1.8"/><rect x="927.76" y="660.70" width="0.6" height="74.80" fill-opacity="0.18"/><rect x="931.00" y="660.20" width="1.2" height="1.8"/><rect x="931.30" y="660.70" width="0.6" height="74.80" fill-opacity="0.18"/><rect x="934.55" y="660.20" width="1.2" height="1.8"/><rect x="934.85" y="660.70" width="0.6" height="74.80" fill-opacity="0.18"/><rect x="938.10" y="660.20" width="1.2" height="1.8"/><rect x="938.40" y="660.70" width="0.6" height="74.80" fill-opacity="0.18"/><rect x="941.65" y="658.00" width="1.2" height="1.8"/><rect x="941.65" y="660.20" width="1.2" height="1.8"/><rect x="941.95" y="658.50" width="0.6" height="77.00" fill-opacity="0.18"/><rect x="945.20" y="658.00" width="1.2" height="1.8"/><rect x="945.50" y="658.50" width="0.6" height="77.00" fill-opacity="0.18"/><rect x="948.75" y="658.00" width="1.2" height="1.8"/><rect x="949.05" y="658.50" width="0.6" height="77.00" fill-opacity="0.18"/><rect x="952.30" y="658.00" width="1.2" height="1.8"/><rect x="952.60" y="658.50" width="0.6" height="77.00" fill-opacity="0.18"/><rect x="955.84" y="658.00" width="1.2" height="1.8"/><rect x="956.14" y="658.50" width="0.6" height="77.00" fill-opacity="0.18"/><rect x="959.39" y="658.00" width="1.2" height="1.8"/><rect x="959.69" y="658.50" width="0.6" height="77.00" fill-opacity="0.18"/><rect x="962.94" y="656.20" width="1.2" height="1.8"/><rect x="962.94" y="658.00" width="1.2" height="1.8"/><rect x="963.24" y="656.70" width="0.6" height="78.80" fill-opacity="0.18"/><rect x="966.49" y="656.20" width="1.2" height="1.8"/><rect x="966.79" y="656.70" width="0.6" height="78.80" fill-opacity="0.18"/><rect x="970.04" y="656.20" width="1.2" height="1.8"/><rect x="970.04" y="653.90" width="1.2" height="1.8"/><rect x="970.34" y="654.40" width="0.6" height="81.10" fill-opacity="0.18"/><rect x="973.59" y="653.90" width="1.2" height="1.8"/><rect x="973.89" y="654.40" width="0.6" height="81.10" fill-opacity="0.18"/><rect x="977.14" y="653.90" width="1.2" height="1.8"/><rect x="977.44" y="654.40" width="0.6" height="81.10" fill-opacity="0.18"/><rect x="980.68" y="653.90" width="1.2" height="1.8"/><rect x="980.98" y="654.40" width="0.6" height="81.10" fill-opacity="0.18"/><rect x="984.23" y="653.90" width="1.2" height="1.8"/><rect x="984.53" y="654.40" width="0.6" height="81.10" fill-opacity="0.18"/><rect x="987.78" y="653.90" width="1.2" height="1.8"/><rect x="988.08" y="654.40" width="0.6" height="81.10" fill-opacity="0.18"/><rect x="991.33" y="653.90" width="1.2" height="1.8"/><rect x="991.63" y="654.40" width="0.6" height="81.10" fill-opacity="0.18"/><rect x="994.88" y="652.30" width="1.2" height="1.8"/><rect x="994.88" y="653.90" width="1.2" height="1.8"/><rect x="995.18" y="652.80" width="0.6" height="82.70" fill-opacity="0.18"/><rect x="998.43" y="652.30" width="1.2" height="1.8"/><rect x="998.73" y="652.80" width="0.6" height="82.70" fill-opacity="0.18"/><rect x="1001.98" y="652.30" width="1.2" height="1.8"/><rect x="1002.28" y="652.80" width="0.6" height="82.70" fill-opacity="0.18"/><rect x="1005.52" y="652.30" width="1.2" height="1.8"/><rect x="1005.83" y="652.80" width="0.6" height="82.70" fill-opacity="0.18"/><rect x="1009.07" y="650.30" width="1.2" height="1.8"/><rect x="1009.07" y="652.30" width="1.2" height="1.8"/><rect x="1009.37" y="650.80" width="0.6" height="84.70" fill-opacity="0.18"/><rect x="1012.62" y="650.30" width="1.2" height="1.8"/><rect x="1012.92" y="650.80" width="0.6" height="84.70" fill-opacity="0.18"/><rect x="1016.17" y="650.30" width="1.2" height="1.8"/><rect x="1016.47" y="650.80" width="0.6" height="84.70" fill-opacity="0.18"/><rect x="1019.72" y="650.30" width="1.2" height="1.8"/><rect x="1020.02" y="650.80" width="0.6" height="84.70" fill-opacity="0.18"/><rect x="1023.27" y="650.30" width="1.2" height="1.8"/><rect x="1023.57" y="650.80" width="0.6" height="84.70" fill-opacity="0.18"/><rect x="1026.82" y="648.00" width="1.2" height="1.8"/><rect x="1026.82" y="650.30" width="1.2" height="1.8"/><rect x="1027.12" y="648.50" width="0.6" height="87.00" fill-opacity="0.18"/><rect x="1030.37" y="648.00" width="1.2" height="1.8"/><rect x="1030.67" y="648.50" width="0.6" height="87.00" fill-opacity="0.18"/><rect x="1033.91" y="648.00" width="1.2" height="1.8"/><rect x="1034.21" y="648.50" width="0.6" height="87.00" fill-opacity="0.18"/><rect x="1037.46" y="648.00" width="1.2" height="1.8"/><rect x="1037.76" y="648.50" width="0.6" height="87.00" fill-opacity="0.18"/><rect x="1041.01" y="648.00" width="1.2" height="1.8"/><rect x="1041.31" y="648.50" width="0.6" height="87.00" fill-opacity="0.18"/><rect x="1044.56" y="648.00" width="1.2" height="1.8"/><rect x="1044.86" y="648.50" width="0.6" height="87.00" fill-opacity="0.18"/><rect x="1048.11" y="648.00" width="1.2" height="1.8"/><rect x="1048.41" y="648.50" width="0.6" height="87.00" fill-opacity="0.18"/><rect x="1051.66" y="648.00" width="1.2" height="1.8"/><rect x="1051.66" y="643.60" width="1.2" height="1.8"/><rect x="1051.96" y="644.10" width="0.6" height="91.40" fill-opacity="0.18"/><rect x="1055.21" y="641.60" width="1.2" height="1.8"/><rect x="1055.21" y="643.60" width="1.2" height="1.8"/><rect x="1055.51" y="642.10" width="0.6" height="93.40" fill-opacity="0.18"/><rect x="1058.75" y="641.60" width="1.2" height="1.8"/><rect x="1058.75" y="637.60" width="1.2" height="1.8"/><rect x="1059.05" y="638.10" width="0.6" height="97.40" fill-opacity="0.18"/><rect x="1062.30" y="635.60" width="1.2" height="1.8"/><rect x="1062.30" y="637.60" width="1.2" height="1.8"/><rect x="1062.60" y="636.10" width="0.6" height="99.40" fill-opacity="0.18"/><rect x="1065.85" y="633.50" width="1.2" height="1.8"/><rect x="1065.85" y="635.60" width="1.2" height="1.8"/><rect x="1066.15" y="634.00" width="0.6" height="101.50" fill-opacity="0.18"/></g>
<rect x="48" y="18" width="1022" height="2" fill="#e3e3e3"/>
<rect x="46" y="18" width="2" height="718" fill="#f0f0f0"/>
<rect x="1070" y="18" width="2" height="718" fill="#f0f0f0"/>
<path d="M48.50,508.20 L53.00,501.25 L56.40,504.60 L59.75,502.75 L63.10,502.40 L66.90,500.90 L71.00,502.75 L74.75,504.60 L78.10,511.75 L82.25,509.90 L89.00,505.75 L92.00,506.90 L96.50,501.60 L102.50,500.10 L106.60,503.50 L110.00,503.90 L114.10,506.50 L117.90,509.10 L122.75,508.00 L126.90,493.00 L131.00,491.10 L138.75,491.75 L142.00,474.50 L147.50,478.00 L155.50,474.25 L162.50,458.00 L167.50,457.00 L173.75,455.50 L181.25,460.00 L184.25,445.00 L188.75,455.75 L195.00,467.00 L198.00,453.75 L202.50,450.75 L208.75,448.75 L217.00,434.50 L220.00,435.00 L225.00,456.25 L228.75,463.75 L237.50,467.50 L241.25,463.75 L245.00,445.00 L253.75,451.25 L260.00,447.00 L262.50,447.50 L266.25,438.75 L271.25,440.50 L277.00,435.75 L281.25,439.50 L284.50,440.50 L287.50,460.00 L291.25,459.50 L298.00,480.75 L305.00,466.75 L310.00,462.50 L313.00,459.25 L316.25,432.50 L318.75,362.50 L326.25,387.00 L330.00,381.25 L333.75,352.50 L337.00,351.75 L340.50,328.75 L344.50,321.25 L348.00,324.50 L351.25,336.25 L354.50,325.00 L358.25,307.50 L362.50,321.25 L368.75,328.75 L372.50,320.00 L375.75,319.25 L379.50,323.75 L383.75,333.00 L390.00,331.25 L397.00,301.25 L401.25,305.00 L407.50,310.00 L411.75,307.00 L415.50,320.50 L421.75,317.50 L427.50,322.50 L432.50,326.75 L436.75,333.75 L443.75,327.50 L448.00,336.25 L451.25,335.50 L458.00,331.25 L462.50,333.75 L468.75,342.00 L475.00,330.00 L478.75,333.00 L483.25,340.00 L487.00,338.00 L488.75,339.50 L492.50,337.50 L496.25,340.00 L501.25,346.25 L507.50,351.25 L513.75,355.00 L518.75,362.00 L522.50,362.00 L525.75,365.00 L529.50,362.50 L533.75,364.50 L542.50,378.75 L547.00,372.00 L550.00,375.00 L553.75,394.50 L563.75,375.00 L568.75,383.25 L575.00,375.50 L578.75,375.50 L582.50,382.50 L586.25,379.50 L592.50,380.75 L600.00,372.50 L606.25,367.50 L610.00,376.25 L616.25,375.50 L620.50,371.25 L625.00,373.75 L628.75,379.50 L635.00,379.50 L638.75,381.25 L642.50,378.75 L646.25,378.75 L650.00,376.25 L653.75,378.00 L657.50,375.50 L662.50,376.25 L670.50,366.25 L675.00,368.75 L679.50,366.25 L683.75,367.50 L686.25,369.25 L689.50,367.00 L695.00,382.50 L699.50,383.75 L703.75,388.75 L709.50,380.00 L713.00,385.00 L717.00,378.00 L720.00,378.75 L725.00,383.00 L731.25,387.00 L738.75,377.00 L743.00,376.25 L746.25,378.00 L749.25,383.75 L752.50,370.00 L760.00,361.25 L763.75,359.50 L767.00,325.00 L770.00,323.75 L773.75,328.75 L777.00,347.00 L780.50,324.50 L784.50,323.25 L788.75,317.00 L792.00,307.00 L795.00,306.25 L798.00,287.00 L802.00,276.25 L806.25,281.25 L809.50,283.75 L812.50,292.00 L820.00,282.00 L823.25,288.00 L827.00,276.25 L830.00,277.50 L834.50,274.50 L839.50,277.00 L847.50,283.75 L852.50,276.25 L856.25,273.00 L862.50,268.00 L868.00,271.25 L875.00,265.50 L880.10,256.50 L886.90,236.25 L890.70,233.60 L894.30,223.90 L898.10,200.25 L901.00,190.10 L904.90,186.75 L908.70,199.80 L912.75,200.25 L916.10,202.50 L919.00,184.50 L922.90,141.75 L926.25,140.00 L929.60,150.75 L934.10,153.50 L937.50,150.30 L940.90,139.50 L946.50,143.60 L950.60,140.60 L955.00,146.25 L958.90,141.75 L962.70,142.20 L966.30,144.00 L969.00,129.40 L973.10,137.25 L976.20,142.20 L979.80,137.25 L983.00,135.00 L986.60,136.10 L991.50,130.50 L998.30,120.40 L1003.90,113.00 L1007.70,112.00 L1012.90,106.90 L1018.50,99.45 L1021.90,123.75 L1026.40,132.75 L1029.75,131.60 L1032.50,118.80 L1036.50,128.70 L1039.90,127.80 L1043.30,117.45 L1047.75,121.00 L1050.70,119.70 L1052.30,166.50 L1053.40,236.25 L1057.20,262.10 L1058.80,170.00 L1060.40,110.00 L1061.90,75.00 L1063.80,48.50 L1068.50,45.00 L1068.50,508.0 L48.50,508.0 Z" fill="#fff" fill-opacity="0.7" clip-path="url(#above)"/>
<path d="M48.50,508.20 L53.00,501.25 L56.40,504.60 L59.75,502.75 L63.10,502.40 L66.90,500.90 L71.00,502.75 L74.75,504.60 L78.10,511.75 L82.25,509.90 L89.00,505.75 L92.00,506.90 L96.50,501.60 L102.50,500.10 L106.60,503.50 L110.00,503.90 L114.10,506.50 L117.90,509.10 L122.75,508.00 L126.90,493.00 L131.00,491.10 L138.75,491.75 L142.00,474.50 L147.50,478.00 L155.50,474.25 L162.50,458.00 L167.50,457.00 L173.75,455.50 L181.25,460.00 L184.25,445.00 L188.75,455.75 L195.00,467.00 L198.00,453.75 L202.50,450.75 L208.75,448.75 L217.00,434.50 L220.00,435.00 L225.00,456.25 L228.75,463.75 L237.50,467.50 L241.25,463.75 L245.00,445.00 L253.75,451.25 L260.00,447.00 L262.50,447.50 L266.25,438.75 L271.25,440.50 L277.00,435.75 L281.25,439.50 L284.50,440.50 L287.50,460.00 L291.25,459.50 L298.00,480.75 L305.00,466.75 L310.00,462.50 L313.00,459.25 L316.25,432.50 L318.75,362.50 L326.25,387.00 L330.00,381.25 L333.75,352.50 L337.00,351.75 L340.50,328.75 L344.50,321.25 L348.00,324.50 L351.25,336.25 L354.50,325.00 L358.25,307.50 L362.50,321.25 L368.75,328.75 L372.50,320.00 L375.75,319.25 L379.50,323.75 L383.75,333.00 L390.00,331.25 L397.00,301.25 L401.25,305.00 L407.50,310.00 L411.75,307.00 L415.50,320.50 L421.75,317.50 L427.50,322.50 L432.50,326.75 L436.75,333.75 L443.75,327.50 L448.00,336.25 L451.25,335.50 L458.00,331.25 L462.50,333.75 L468.75,342.00 L475.00,330.00 L478.75,333.00 L483.25,340.00 L487.00,338.00 L488.75,339.50 L492.50,337.50 L496.25,340.00 L501.25,346.25 L507.50,351.25 L513.75,355.00 L518.75,362.00 L522.50,362.00 L525.75,365.00 L529.50,362.50 L533.75,364.50 L542.50,378.75 L547.00,372.00 L550.00,375.00 L553.75,394.50 L563.75,375.00 L568.75,383.25 L575.00,375.50 L578.75,375.50 L582.50,382.50 L586.25,379.50 L592.50,380.75 L600.00,372.50 L606.25,367.50 L610.00,376.25 L616.25,375.50 L620.50,371.25 L625.00,373.75 L628.75,379.50 L635.00,379.50 L638.75,381.25 L642.50,378.75 L646.25,378.75 L650.00,376.25 L653.75,378.00 L657.50,375.50 L662.50,376.25 L670.50,366.25 L675.00,368.75 L679.50,366.25 L683.75,367.50 L686.25,369.25 L689.50,367.00 L695.00,382.50 L699.50,383.75 L703.75,388.75 L709.50,380.00 L713.00,385.00 L717.00,378.00 L720.00,378.75 L725.00,383.00 L731.25,387.00 L738.75,377.00 L743.00,376.25 L746.25,378.00 L749.25,383.75 L752.50,370.00 L760.00,361.25 L763.75,359.50 L767.00,325.00 L770.00,323.75 L773.75,328.75 L777.00,347.00 L780.50,324.50 L784.50,323.25 L788.75,317.00 L792.00,307.00 L795.00,306.25 L798.00,287.00 L802.00,276.25 L806.25,281.25 L809.50,283.75 L812.50,292.00 L820.00,282.00 L823.25,288.00 L827.00,276.25 L830.00,277.50 L834.50,274.50 L839.50,277.00 L847.50,283.75 L852.50,276.25 L856.25,273.00 L862.50,268.00 L868.00,271.25 L875.00,265.50 L880.10,256.50 L886.90,236.25 L890.70,233.60 L894.30,223.90 L898.10,200.25 L901.00,190.10 L904.90,186.75 L908.70,199.80 L912.75,200.25 L916.10,202.50 L919.00,184.50 L922.90,141.75 L926.25,140.00 L929.60,150.75 L934.10,153.50 L937.50,150.30 L940.90,139.50 L946.50,143.60 L950.60,140.60 L955.00,146.25 L958.90,141.75 L962.70,142.20 L966.30,144.00 L969.00,129.40 L973.10,137.25 L976.20,142.20 L979.80,137.25 L983.00,135.00 L986.60,136.10 L991.50,130.50 L998.30,120.40 L1003.90,113.00 L1007.70,112.00 L1012.90,106.90 L1018.50,99.45 L1021.90,123.75 L1026.40,132.75 L1029.75,131.60 L1032.50,118.80 L1036.50,128.70 L1039.90,127.80 L1043.30,117.45 L1047.75,121.00 L1050.70,119.70 L1052.30,166.50 L1053.40,236.25 L1057.20,262.10 L1058.80,170.00 L1060.40,110.00 L1061.90,75.00 L1063.80,48.50 L1068.50,45.00 L1068.50,508.0 L48.50,508.0 Z" fill="url(#g)" clip-path="url(#above)"/>
<path d="M48.50,508.20 L53.00,501.25 L56.40,504.60 L59.75,502.75 L63.10,502.40 L66.90,500.90 L71.00,502.75 L74.75,504.60 L78.10,511.75 L82.25,509.90 L89.00,505.75 L92.00,506.90 L96.50,501.60 L102.50,500.10 L106.60,503.50 L110.00,503.90 L114.10,506.50 L117.90,509.10 L122.75,508.00 L126.90,493.00 L131.00,491.10 L138.75,491.75 L142.00,474.50 L147.50,478.00 L155.50,474.25 L162.50,458.00 L167.50,457.00 L173.75,455.50 L181.25,460.00 L184.25,445.00 L188.75,455.75 L195.00,467.00 L198.00,453.75 L202.50,450.75 L208.75,448.75 L217.00,434.50 L220.00,435.00 L225.00,456.25 L228.75,463.75 L237.50,467.50 L241.25,463.75 L245.00,445.00 L253.75,451.25 L260.00,447.00 L262.50,447.50 L266.25,438.75 L271.25,440.50 L277.00,435.75 L281.25,439.50 L284.50,440.50 L287.50,460.00 L291.25,459.50 L298.00,480.75 L305.00,466.75 L310.00,462.50 L313.00,459.25 L316.25,432.50 L318.75,362.50 L326.25,387.00 L330.00,381.25 L333.75,352.50 L337.00,351.75 L340.50,328.75 L344.50,321.25 L348.00,324.50 L351.25,336.25 L354.50,325.00 L358.25,307.50 L362.50,321.25 L368.75,328.75 L372.50,320.00 L375.75,319.25 L379.50,323.75 L383.75,333.00 L390.00,331.25 L397.00,301.25 L401.25,305.00 L407.50,310.00 L411.75,307.00 L415.50,320.50 L421.75,317.50 L427.50,322.50 L432.50,326.75 L436.75,333.75 L443.75,327.50 L448.00,336.25 L451.25,335.50 L458.00,331.25 L462.50,333.75 L468.75,342.00 L475.00,330.00 L478.75,333.00 L483.25,340.00 L487.00,338.00 L488.75,339.50 L492.50,337.50 L496.25,340.00 L501.25,346.25 L507.50,351.25 L513.75,355.00 L518.75,362.00 L522.50,362.00 L525.75,365.00 L529.50,362.50 L533.75,364.50 L542.50,378.75 L547.00,372.00 L550.00,375.00 L553.75,394.50 L563.75,375.00 L568.75,383.25 L575.00,375.50 L578.75,375.50 L582.50,382.50 L586.25,379.50 L592.50,380.75 L600.00,372.50 L606.25,367.50 L610.00,376.25 L616.25,375.50 L620.50,371.25 L625.00,373.75 L628.75,379.50 L635.00,379.50 L638.75,381.25 L642.50,378.75 L646.25,378.75 L650.00,376.25 L653.75,378.00 L657.50,375.50 L662.50,376.25 L670.50,366.25 L675.00,368.75 L679.50,366.25 L683.75,367.50 L686.25,369.25 L689.50,367.00 L695.00,382.50 L699.50,383.75 L703.75,388.75 L709.50,380.00 L713.00,385.00 L717.00,378.00 L720.00,378.75 L725.00,383.00 L731.25,387.00 L738.75,377.00 L743.00,376.25 L746.25,378.00 L749.25,383.75 L752.50,370.00 L760.00,361.25 L763.75,359.50 L767.00,325.00 L770.00,323.75 L773.75,328.75 L777.00,347.00 L780.50,324.50 L784.50,323.25 L788.75,317.00 L792.00,307.00 L795.00,306.25 L798.00,287.00 L802.00,276.25 L806.25,281.25 L809.50,283.75 L812.50,292.00 L820.00,282.00 L823.25,288.00 L827.00,276.25 L830.00,277.50 L834.50,274.50 L839.50,277.00 L847.50,283.75 L852.50,276.25 L856.25,273.00 L862.50,268.00 L868.00,271.25 L875.00,265.50 L880.10,256.50 L886.90,236.25 L890.70,233.60 L894.30,223.90 L898.10,200.25 L901.00,190.10 L904.90,186.75 L908.70,199.80 L912.75,200.25 L916.10,202.50 L919.00,184.50 L922.90,141.75 L926.25,140.00 L929.60,150.75 L934.10,153.50 L937.50,150.30 L940.90,139.50 L946.50,143.60 L950.60,140.60 L955.00,146.25 L958.90,141.75 L962.70,142.20 L966.30,144.00 L969.00,129.40 L973.10,137.25 L976.20,142.20 L979.80,137.25 L983.00,135.00 L986.60,136.10 L991.50,130.50 L998.30,120.40 L1003.90,113.00 L1007.70,112.00 L1012.90,106.90 L1018.50,99.45 L1021.90,123.75 L1026.40,132.75 L1029.75,131.60 L1032.50,118.80 L1036.50,128.70 L1039.90,127.80 L1043.30,117.45 L1047.75,121.00 L1050.70,119.70 L1052.30,166.50 L1053.40,236.25 L1057.20,262.10 L1058.80,170.00 L1060.40,110.00 L1061.90,75.00 L1063.80,48.50 L1068.50,45.00 L1068.50,508.0 L48.50,508.0 Z" fill="#ea3943" fill-opacity="0.25" clip-path="url(#below)"/>
<path d="M48.50,508.20 L53.00,501.25 L56.40,504.60 L59.75,502.75 L63.10,502.40 L66.90,500.90 L71.00,502.75 L74.75,504.60 L78.10,511.75 L82.25,509.90 L89.00,505.75 L92.00,506.90 L96.50,501.60 L102.50,500.10 L106.60,503.50 L110.00,503.90 L114.10,506.50 L117.90,509.10 L122.75,508.00 L126.90,493.00 L131.00,491.10 L138.75,491.75 L142.00,474.50 L147.50,478.00 L155.50,474.25 L162.50,458.00 L167.50,457.00 L173.75,455.50 L181.25,460.00 L184.25,445.00 L188.75,455.75 L195.00,467.00 L198.00,453.75 L202.50,450.75 L208.75,448.75 L217.00,434.50 L220.00,435.00 L225.00,456.25 L228.75,463.75 L237.50,467.50 L241.25,463.75 L245.00,445.00 L253.75,451.25 L260.00,447.00 L262.50,447.50 L266.25,438.75 L271.25,440.50 L277.00,435.75 L281.25,439.50 L284.50,440.50 L287.50,460.00 L291.25,459.50 L298.00,480.75 L305.00,466.75 L310.00,462.50 L313.00,459.25 L316.25,432.50 L318.75,362.50 L326.25,387.00 L330.00,381.25 L333.75,352.50 L337.00,351.75 L340.50,328.75 L344.50,321.25 L348.00,324.50 L351.25,336.25 L354.50,325.00 L358.25,307.50 L362.50,321.25 L368.75,328.75 L372.50,320.00 L375.75,319.25 L379.50,323.75 L383.75,333.00 L390.00,331.25 L397.00,301.25 L401.25,305.00 L407.50,310.00 L411.75,307.00 L415.50,320.50 L421.75,317.50 L427.50,322.50 L432.50,326.75 L436.75,333.75 L443.75,327.50 L448.00,336.25 L451.25,335.50 L458.00,331.25 L462.50,333.75 L468.75,342.00 L475.00,330.00 L478.75,333.00 L483.25,340.00 L487.00,338.00 L488.75,339.50 L492.50,337.50 L496.25,340.00 L501.25,346.25 L507.50,351.25 L513.75,355.00 L518.75,362.00 L522.50,362.00 L525.75,365.00 L529.50,362.50 L533.75,364.50 L542.50,378.75 L547.00,372.00 L550.00,375.00 L553.75,394.50 L563.75,375.00 L568.75,383.25 L575.00,375.50 L578.75,375.50 L582.50,382.50 L586.25,379.50 L592.50,380.75 L600.00,372.50 L606.25,367.50 L610.00,376.25 L616.25,375.50 L620.50,371.25 L625.00,373.75 L628.75,379.50 L635.00,379.50 L638.75,381.25 L642.50,378.75 L646.25,378.75 L650.00,376.25 L653.75,378.00 L657.50,375.50 L662.50,376.25 L670.50,366.25 L675.00,368.75 L679.50,366.25 L683.75,367.50 L686.25,369.25 L689.50,367.00 L695.00,382.50 L699.50,383.75 L703.75,388.75 L709.50,380.00 L713.00,385.00 L717.00,378.00 L720.00,378.75 L725.00,383.00 L731.25,387.00 L738.75,377.00 L743.00,376.25 L746.25,378.00 L749.25,383.75 L752.50,370.00 L760.00,361.25 L763.75,359.50 L767.00,325.00 L770.00,323.75 L773.75,328.75 L777.00,347.00 L780.50,324.50 L784.50,323.25 L788.75,317.00 L792.00,307.00 L795.00,306.25 L798.00,287.00 L802.00,276.25 L806.25,281.25 L809.50,283.75 L812.50,292.00 L820.00,282.00 L823.25,288.00 L827.00,276.25 L830.00,277.50 L834.50,274.50 L839.50,277.00 L847.50,283.75 L852.50,276.25 L856.25,273.00 L862.50,268.00 L868.00,271.25 L875.00,265.50 L880.10,256.50 L886.90,236.25 L890.70,233.60 L894.30,223.90 L898.10,200.25 L901.00,190.10 L904.90,186.75 L908.70,199.80 L912.75,200.25 L916.10,202.50 L919.00,184.50 L922.90,141.75 L926.25,140.00 L929.60,150.75 L934.10,153.50 L937.50,150.30 L940.90,139.50 L946.50,143.60 L950.60,140.60 L955.00,146.25 L958.90,141.75 L962.70,142.20 L966.30,144.00 L969.00,129.40 L973.10,137.25 L976.20,142.20 L979.80,137.25 L983.00,135.00 L986.60,136.10 L991.50,130.50 L998.30,120.40 L1003.90,113.00 L1007.70,112.00 L1012.90,106.90 L1018.50,99.45 L1021.90,123.75 L1026.40,132.75 L1029.75,131.60 L1032.50,118.80 L1036.50,128.70 L1039.90,127.80 L1043.30,117.45 L1047.75,121.00 L1050.70,119.70 L1052.30,166.50 L1053.40,236.25 L1057.20,262.10 L1058.80,170.00 L1060.40,110.00 L1061.90,75.00 L1063.80,48.50 L1068.50,45.00" fill="none" stroke="#16c784" stroke-width="4" stroke-linejoin="round" stroke-linecap="round" clip-path="url(#above)"/>
<path d="M48.50,508.20 L53.00,501.25 L56.40,504.60 L59.75,502.75 L63.10,502.40 L66.90,500.90 L71.00,502.75 L74.75,504.60 L78.10,511.75 L82.25,509.90 L89.00,505.75 L92.00,506.90 L96.50,501.60 L102.50,500.10 L106.60,503.50 L110.00,503.90 L114.10,506.50 L117.90,509.10 L122.75,508.00 L126.90,493.00 L131.00,491.10 L138.75,491.75 L142.00,474.50 L147.50,478.00 L155.50,474.25 L162.50,458.00 L167.50,457.00 L173.75,455.50 L181.25,460.00 L184.25,445.00 L188.75,455.75 L195.00,467.00 L198.00,453.75 L202.50,450.75 L208.75,448.75 L217.00,434.50 L220.00,435.00 L225.00,456.25 L228.75,463.75 L237.50,467.50 L241.25,463.75 L245.00,445.00 L253.75,451.25 L260.00,447.00 L262.50,447.50 L266.25,438.75 L271.25,440.50 L277.00,435.75 L281.25,439.50 L284.50,440.50 L287.50,460.00 L291.25,459.50 L298.00,480.75 L305.00,466.75 L310.00,462.50 L313.00,459.25 L316.25,432.50 L318.75,362.50 L326.25,387.00 L330.00,381.25 L333.75,352.50 L337.00,351.75 L340.50,328.75 L344.50,321.25 L348.00,324.50 L351.25,336.25 L354.50,325.00 L358.25,307.50 L362.50,321.25 L368.75,328.75 L372.50,320.00 L375.75,319.25 L379.50,323.75 L383.75,333.00 L390.00,331.25 L397.00,301.25 L401.25,305.00 L407.50,310.00 L411.75,307.00 L415.50,320.50 L421.75,317.50 L427.50,322.50 L432.50,326.75 L436.75,333.75 L443.75,327.50 L448.00,336.25 L451.25,335.50 L458.00,331.25 L462.50,333.75 L468.75,342.00 L475.00,330.00 L478.75,333.00 L483.25,340.00 L487.00,338.00 L488.75,339.50 L492.50,337.50 L496.25,340.00 L501.25,346.25 L507.50,351.25 L513.75,355.00 L518.75,362.00 L522.50,362.00 L525.75,365.00 L529.50,362.50 L533.75,364.50 L542.50,378.75 L547.00,372.00 L550.00,375.00 L553.75,394.50 L563.75,375.00 L568.75,383.25 L575.00,375.50 L578.75,375.50 L582.50,382.50 L586.25,379.50 L592.50,380.75 L600.00,372.50 L606.25,367.50 L610.00,376.25 L616.25,375.50 L620.50,371.25 L625.00,373.75 L628.75,379.50 L635.00,379.50 L638.75,381.25 L642.50,378.75 L646.25,378.75 L650.00,376.25 L653.75,378.00 L657.50,375.50 L662.50,376.25 L670.50,366.25 L675.00,368.75 L679.50,366.25 L683.75,367.50 L686.25,369.25 L689.50,367.00 L695.00,382.50 L699.50,383.75 L703.75,388.75 L709.50,380.00 L713.00,385.00 L717.00,378.00 L720.00,378.75 L725.00,383.00 L731.25,387.00 L738.75,377.00 L743.00,376.25 L746.25,378.00 L749.25,383.75 L752.50,370.00 L760.00,361.25 L763.75,359.50 L767.00,325.00 L770.00,323.75 L773.75,328.75 L777.00,347.00 L780.50,324.50 L784.50,323.25 L788.75,317.00 L792.00,307.00 L795.00,306.25 L798.00,287.00 L802.00,276.25 L806.25,281.25 L809.50,283.75 L812.50,292.00 L820.00,282.00 L823.25,288.00 L827.00,276.25 L830.00,277.50 L834.50,274.50 L839.50,277.00 L847.50,283.75 L852.50,276.25 L856.25,273.00 L862.50,268.00 L868.00,271.25 L875.00,265.50 L880.10,256.50 L886.90,236.25 L890.70,233.60 L894.30,223.90 L898.10,200.25 L901.00,190.10 L904.90,186.75 L908.70,199.80 L912.75,200.25 L916.10,202.50 L919.00,184.50 L922.90,141.75 L926.25,140.00 L929.60,150.75 L934.10,153.50 L937.50,150.30 L940.90,139.50 L946.50,143.60 L950.60,140.60 L955.00,146.25 L958.90,141.75 L962.70,142.20 L966.30,144.00 L969.00,129.40 L973.10,137.25 L976.20,142.20 L979.80,137.25 L983.00,135.00 L986.60,136.10 L991.50,130.50 L998.30,120.40 L1003.90,113.00 L1007.70,112.00 L1012.90,106.90 L1018.50,99.45 L1021.90,123.75 L1026.40,132.75 L1029.75,131.60 L1032.50,118.80 L1036.50,128.70 L1039.90,127.80 L1043.30,117.45 L1047.75,121.00 L1050.70,119.70 L1052.30,166.50 L1053.40,236.25 L1057.20,262.10 L1058.80,170.00 L1060.40,110.00 L1061.90,75.00 L1063.80,48.50 L1068.50,45.00" fill="none" stroke="#ea3943" stroke-width="4" stroke-linejoin="round" stroke-linecap="round" clip-path="url(#below)"/>
<rect x="48" y="508" width="1022" height="2" fill="url(#dots)"/>
<text transform="translate(1082,150) scale(1,1.06)" x="0" y="0">1.8</text><text transform="translate(1082,270) scale(1,1.06)" x="0" y="0">1.6</text><text transform="translate(1082,392) scale(1,1.06)" x="0" y="0">1.4</text><text transform="translate(1082,512) scale(1,1.06)" x="0" y="0">1.2</text><text transform="translate(1082,634) scale(1,1.06)" x="0" y="0">1.0</text>
<text transform="translate(135.3,774) scale(1,1.06)" x="0" y="0" text-anchor="middle">12:00 PM</text><text transform="translate(305.3,774) scale(1,1.06)" x="0" y="0" text-anchor="middle">4:00 PM</text><text transform="translate(475.5,774) scale(1,1.06)" x="0" y="0" text-anchor="middle">8:00 PM</text><text transform="translate(646.8,774) scale(1,1.06)" x="0" y="0" text-anchor="middle">17 Mar</text><text transform="translate(815.9,774) scale(1,1.06)" x="0" y="0" text-anchor="middle">4:00 AM</text><text transform="translate(986.5,774) scale(1,1.06)" x="0" y="0" text-anchor="middle">8:00 AM</text>
</svg>
</body></html>
